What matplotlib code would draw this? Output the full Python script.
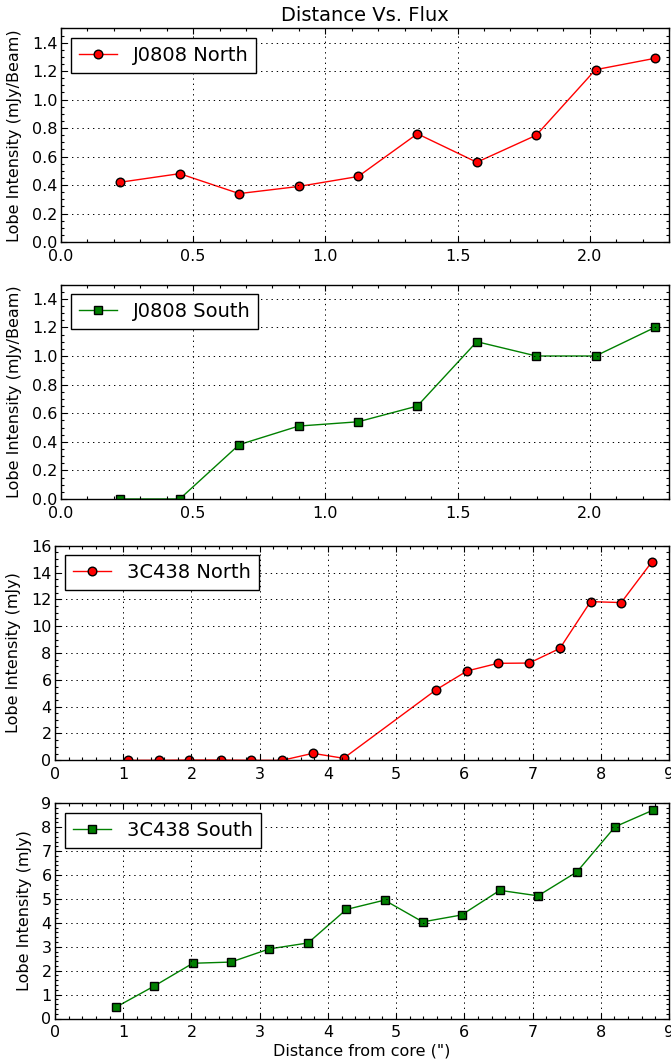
import matplotlib
matplotlib.use('Agg')
import matplotlib.pyplot as plt
from matplotlib.ticker import AutoMinorLocator, MultipleLocator

# J0808 lobes (distance in arcsec, intensity in mJy/Beam)
j0808_dist = [0.225, 0.449, 0.674, 0.899, 1.124, 1.348, 1.573, 1.798, 2.022, 2.247]
j0808_north = [0.42, 0.48, 0.34, 0.39, 0.46, 0.76, 0.56, 0.75, 1.21, 1.29]
j0808_south = [0.0, 0.0, 0.38, 0.51, 0.54, 0.65, 1.10, 1.00, 1.00, 1.20]

# 3C438 lobes (intensity in mJy)
c438_north_dist = [1.07, 1.52, 1.97, 2.43, 2.88, 3.33, 3.78, 4.23,
                   5.59, 6.04, 6.49, 6.95, 7.40, 7.85, 8.30, 8.75]
c438_north = [0.0, 0.0, 0.02, 0.02, 0.0, 0.0, 0.52, 0.15,
              5.27, 6.66, 7.23, 7.25, 8.34, 11.83, 11.76, 14.8]
c438_south_dist = [0.89, 1.45, 2.02, 2.58, 3.14, 3.71, 4.27, 4.83,
                   5.39, 5.96, 6.52, 7.08, 7.65, 8.21, 8.77]
c438_south = [0.47, 1.35, 2.31, 2.36, 2.91, 3.16, 4.56, 4.95,
              4.04, 4.33, 5.36, 5.13, 6.13, 8.02, 8.72]

plt.rcParams['font.family'] = 'DejaVu Sans'

fig = plt.figure(figsize=(6.71, 10.61), dpi=100)

W, H = 671.0, 1061.0
right = 669.0

def make_axes(left, top, bottom):
    return fig.add_axes([left / W, 1 - bottom / H, (right - left) / W, (bottom - top) / H])

panels = [
    (make_axes(61, 28.4, 242), j0808_dist, j0808_north, 'r', 'o', 'J0808 North',
     'Lobe Intensity (mJy/Beam)', (0, 2.3), (0, 1.5), 0.5, 0.2),
    (make_axes(61, 284.5, 499), j0808_dist, j0808_south, 'g', 's', 'J0808 South',
     'Lobe Intensity (mJy/Beam)', (0, 2.3), (0, 1.5), 0.5, 0.2),
    (make_axes(55, 545.7, 760.3), c438_north_dist, c438_north, 'r', 'o', '3C438 North',
     'Lobe Intensity (mJy)', (0, 9), (0, 16), 1, 2),
    (make_axes(55, 803.3, 1018.5), c438_south_dist, c438_south, 'g', 's', '3C438 South',
     'Lobe Intensity (mJy)', (0, 9), (0, 9), 1, 1),
]

for ax, x, y, color, marker, label, ylabel, xlim, ylim, xstep, ystep in panels:
    ax.plot(x, y, color=color, marker=marker, markersize=6.2, markeredgecolor='k',
            markeredgewidth=1.0, linewidth=1.0, label=label)
    ax.set_xlim(*xlim)
    ax.set_ylim(*ylim)
    ax.xaxis.set_major_locator(MultipleLocator(xstep))
    ax.yaxis.set_major_locator(MultipleLocator(ystep))
    ax.xaxis.set_minor_locator(AutoMinorLocator())
    ax.yaxis.set_minor_locator(AutoMinorLocator())
    ax.tick_params(which='both', direction='in', top=True, right=True, labelsize=11.5)
    ax.tick_params(which='major', length=4.5, width=0.8)
    ax.tick_params(which='minor', length=2.2, width=0.8)
    ax.tick_params(axis='x', pad=5)
    ax.tick_params(axis='y', pad=2.5)
    ax.grid(True, which='major', color='k', linestyle=(0, (1.4, 4)), linewidth=0.7)
    ax.set_axisbelow(False)
    for sp in ax.spines.values():
        sp.set_linewidth(1.0)
    ax.set_ylabel(ylabel, fontsize=11.5, labelpad=7)
    leg = ax.legend(loc='upper left', fontsize=14, fancybox=False, framealpha=1,
                    edgecolor='k', numpoints=1)
    leg.get_frame().set_linewidth(1.0)

panels[0][0].set_title('Distance Vs. Flux', fontsize=14, pad=5)
panels[3][0].set_xlabel('Distance from core (")', fontsize=11.5, labelpad=2)

fig.savefig('out.png', dpi=100)
